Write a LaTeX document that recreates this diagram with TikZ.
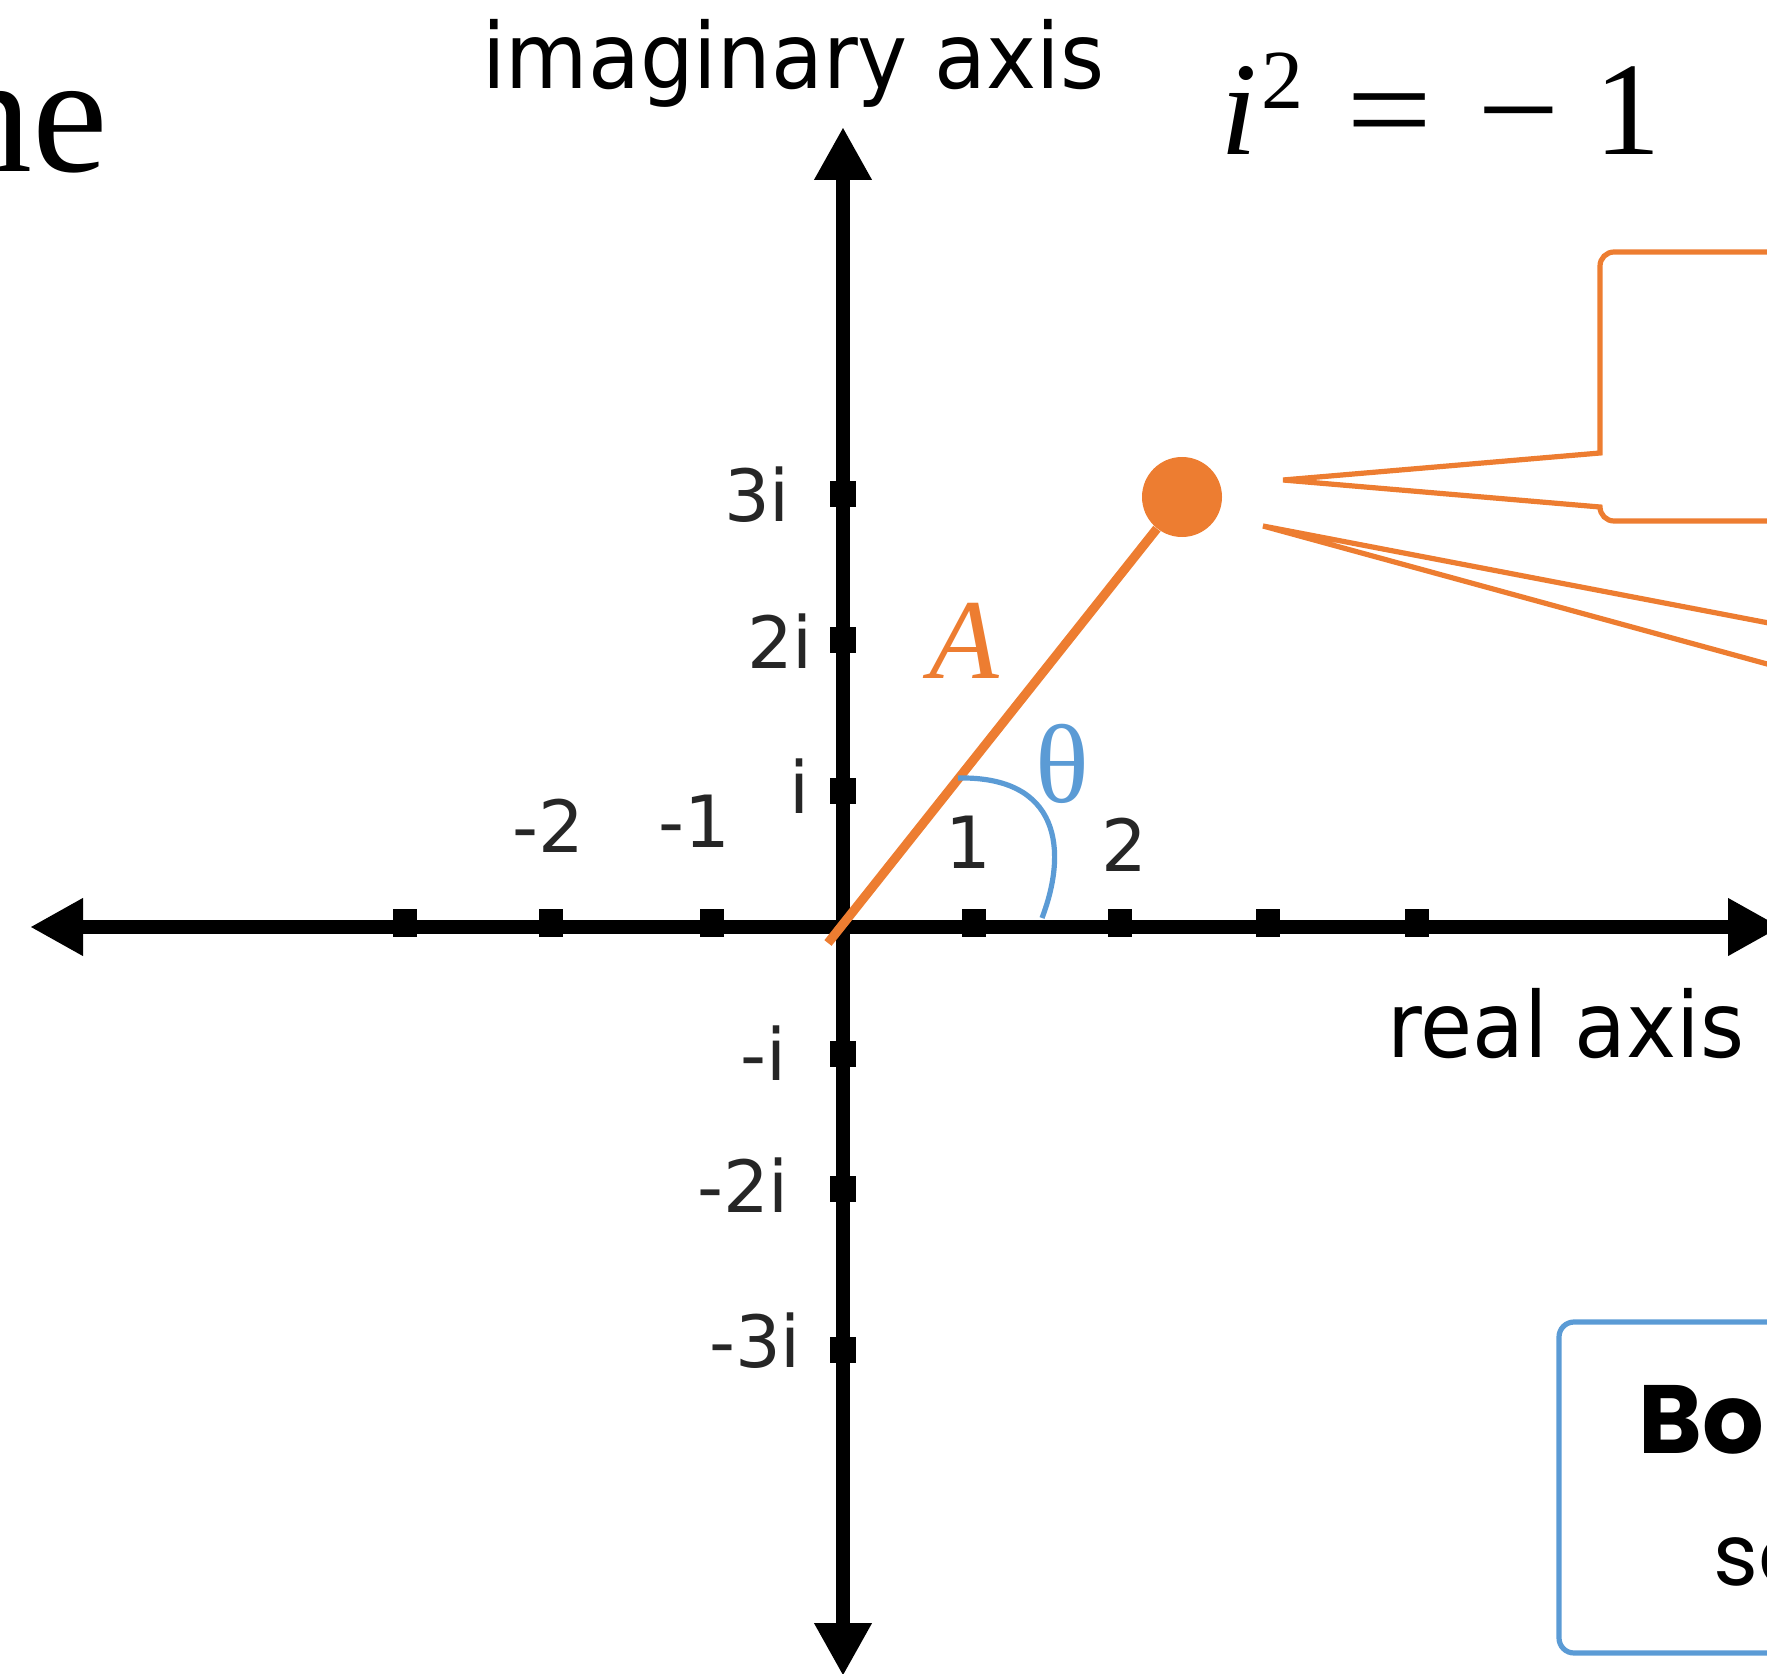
\documentclass[tikz,border=0pt]{standalone}
\usepackage{fontspec}
\setmainfont{Liberation Serif}
\newfontfamily\axfont{DejaVu Sans}
\newfontfamily\popfont{Poppins}
\usetikzlibrary{arrows.meta}
\definecolor{aorange}{HTML}{ED7D31}
\definecolor{ablue}{HTML}{5B9BD5}
\newcommand{\axtitle}[1]{\scalebox{0.93}[1]{#1}}
\tikzset{
  axisline/.style={line width=6.8pt, draw=black,
    {Triangle[length=26.5pt,width=27pt]}-{Triangle[length=26.5pt,width=27pt]}},
  ticklab/.style={font=\axfont\fontsize{36}{36}\selectfont, text=black!85, inner sep=0pt},
  axtitlestyle/.style={font=\axfont\fontsize{45.5}{45.5}\selectfont, inner sep=0pt},
  orangeline/.style={draw=aorange, line width=2.6pt},
  bluebox/.style={draw=ablue, line width=2.6pt, rounded corners=7.5pt},
}
\begin{document}
\begin{tikzpicture}[x=0.5pt,y=-0.5pt]
\useasboundingbox (0,0) rectangle (1767,1674);

% axes
\coordinate (O) at (843,927);
\coordinate (xl) at (30,927);
\coordinate (xr) at (1781,927);
\coordinate (yt) at (843,127);
\coordinate (yb) at (843,1676);
\draw[axisline] (xl) -- (xr);
\draw[axisline] (yb) -- (yt);

% ticks
\foreach \x in {405,551,712,974,1120,1268,1417}
  \fill (\x-12,909) rectangle (\x+12,937);
\foreach \y in {494,640,791,1054,1189,1350}
  \fill (830,\y-13) rectangle (856,\y+13);

% tick labels
\node[ticklab] (lm2) at (548,826) {-2};
\node[ticklab] (lm1) at (694,821) {-1};
\node[ticklab] (l1) at (968,842) {1};
\node[ticklab] (l2) at (1124,845) {2};
\node[ticklab] (l3i) at (757,495) {3i};
\node[ticklab] (l2i) at (780,641) {2i};
\node[ticklab] (li) at (799,786) {i};
\node[ticklab] (lmi) at (763,1053) {-i};
\node[ticklab] (lm2i) at (743,1185) {-2i};
\node[ticklab] (lm3i) at (755,1341) {-3i};

% axis titles
\node[axtitlestyle, anchor=base west] (imag) at (482,89) {\axtitle{imaginary axis}};
\node[axtitlestyle, anchor=base west] (real) at (1387,1057) {\axtitle{real axis}};

% title fragment and formula
\node[inner sep=0pt, anchor=base east, font=\fontsize{85}{85}\selectfont] (title) at (108,172) {ne};
\node[inner sep=0pt, anchor=base west] (formula) at (1220,155)
  {\fontsize{66.5}{66.5}\selectfont\textit{i}\hspace{2pt}\raisebox{23pt}{\fontsize{42}{42}\selectfont 2}\hspace{21.5pt}\scalebox{1.15}[1]{=}\hspace{22.5pt}\scalebox{1.1}[1]{−}\hspace{17pt}1};

% vector A
\coordinate (Ostart) at (828,943);
\node[circle, fill=aorange, minimum size=40pt, inner sep=0pt] (P) at (1182,497) {};
\draw[orangeline, line width=4.6pt] (Ostart) -- (P);
\node[aorange, inner sep=0pt, anchor=base, font=\itshape\fontsize{57}{57}\selectfont] (A) at (964,678) {A};

% angle theta
\coordinate (a1) at (958,778);
\coordinate (a2) at (1042,918);
\draw[ablue, line width=2.6pt] (a1) .. controls (1060,776) and (1068,850) .. (a2);
\node[ablue, inner sep=0pt, anchor=base, font=\fontsize{56}{56}\selectfont] (th) at (1062,802) {θ};

% callout 1
\coordinate (c1tip) at (1283,480);
\draw[orangeline] (1800,252) -- (1614,252) arc[start angle=270, end angle=180, radius=14]
  -- (1600,453) -- (c1tip) -- (1600,507) arc[start angle=180, end angle=90, radius=14] -- (1800,521);

% callout 2
\coordinate (c2tip) at (1263,526);
\coordinate (c2a) at (1800,629);
\coordinate (c2b) at (1800,673);
\draw[orangeline] (c2a) -- (c2tip) -- (c2b);

% blue box
\draw[bluebox] (1800,1322) -| (1559,1653) -- (1800,1653);
\node[inner sep=0pt, anchor=base west, font=\popfont\bfseries\fontsize{48.5}{48.5}\selectfont] (bo) at (1638,1453) {Bo};
\node[inner sep=0pt, anchor=base west, font=\popfont\fontsize{43}{43}\selectfont] (se) at (1713,1585) {se};
\end{tikzpicture}
\end{document}
